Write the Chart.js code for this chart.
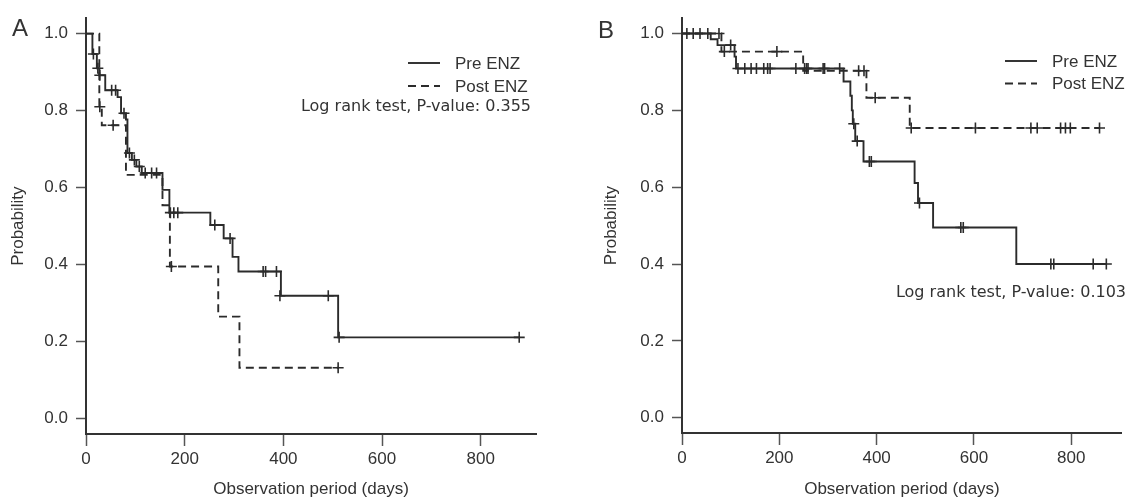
<!DOCTYPE html>
<html>
<head>
<meta charset="utf-8">
<script src="https://cdn.jsdelivr.net/npm/chart.js@4.4.1/dist/chart.umd.min.js"></script>
<style>
  html, body { margin: 0; padding: 0; background: #fff; }
  #wrap { position: relative; width: 1129px; height: 501px; }
  canvas { position: absolute; top: 0; }
  #panelA { left: 0; }
  #panelB { left: 596px; }
</style>
</head>
<body>
<div id="wrap">
  <canvas id="panelA" width="596" height="501"></canvas>
  <canvas id="panelB" width="533" height="501"></canvas>
</div>
<script>
// Panel A - step curves (time in days, survival probability)
const aPreTime = [0, 13, 22, 27, 39, 64, 71, 81, 84, 93, 102, 113, 155, 169, 252, 279, 297, 309, 395, 511, 878];
const aPreSurv = [1.0, 0.947, 0.91, 0.892, 0.853, 0.835, 0.793, 0.777, 0.69, 0.672, 0.655, 0.638, 0.594, 0.535, 0.503, 0.468, 0.42, 0.382, 0.319, 0.211, 0.211];
const aPreCensTime = [15, 24, 28, 52, 60, 77, 88, 98, 108, 120, 133, 143, 171, 178, 186, 261, 292, 359, 364, 386, 393, 491, 513, 878];
const aPreCensSurv = [0.947, 0.91, 0.892, 0.853, 0.853, 0.793, 0.69, 0.672, 0.655, 0.638, 0.638, 0.638, 0.535, 0.535, 0.535, 0.503, 0.468, 0.382, 0.382, 0.382, 0.319, 0.319, 0.211, 0.211];

const aPostTime = [0, 27, 32, 81, 155, 170, 268, 311, 511];
const aPostSurv = [1.0, 0.81, 0.762, 0.633, 0.554, 0.395, 0.265, 0.132, 0.132];
const aPostCensTime = [28, 55, 173, 511];
const aPostCensSurv = [0.81, 0.762, 0.395, 0.132];

// Panel B
const bPreTime = [0, 59, 73, 108, 111, 332, 346, 349, 351, 356, 373, 478, 485, 516, 687, 872];
const bPreSurv = [1.0, 0.985, 0.97, 0.94, 0.909, 0.875, 0.838, 0.80, 0.765, 0.72, 0.667, 0.611, 0.559, 0.495, 0.40, 0.40];
const bPreCensTime = [10, 23, 37, 53, 100, 115, 129, 142, 153, 168, 176, 181, 234, 252, 256, 259, 290, 293, 324, 353, 360, 385, 389, 488, 573, 578, 758, 764, 845, 872];
const bPreCensSurv = [1.0, 1.0, 1.0, 1.0, 0.97, 0.909, 0.909, 0.909, 0.909, 0.909, 0.909, 0.909, 0.909, 0.909, 0.909, 0.909, 0.909, 0.909, 0.909, 0.765, 0.72, 0.667, 0.667, 0.559, 0.495, 0.495, 0.40, 0.40, 0.40, 0.40];

const bPostTime = [0, 81, 249, 379, 468, 858];
const bPostSurv = [1.0, 0.953, 0.903, 0.833, 0.754, 0.754];
const bPostCensTime = [76, 87, 195, 363, 374, 397, 471, 603, 717, 730, 778, 788, 798, 858];
const bPostCensSurv = [1.0, 0.953, 0.953, 0.903, 0.903, 0.833, 0.754, 0.754, 0.754, 0.754, 0.754, 0.754, 0.754, 0.754];

const xTicks = [0, 200, 400, 600, 800];
const yTicks = [0, 0.2, 0.4, 0.6, 0.8, 1.0];
const yTickLabels = ['0.0', '0.2', '0.4', '0.6', '0.8', '1.0'];
const groupLabels = ['Pre ENZ', 'Post ENZ'];

const INK = '#2b2b2b';
const SANS = '"Liberation Sans", Arial, sans-serif';

Chart.defaults.font.family = SANS;
Chart.defaults.font.size = 17;
Chart.defaults.color = '#333';

function toPoints(xs, ys) {
    return xs.map((x, i) => ({ x, y: ys[i] }));
}

function curve(label, xs, ys, dash) {
    return {
        type: 'line',
        label,
        data: toPoints(xs, ys),
        stepped: true,
        borderColor: INK,
        borderWidth: 1.9,
        borderDash: dash,
        pointRadius: 0,
        fill: false,
    };
}

function censors(xs, ys) {
    return {
        type: 'scatter',
        label: 'censored',
        data: toPoints(xs, ys),
        pointStyle: 'cross',
        pointRadius: 5.5,
        borderColor: INK,
        backgroundColor: INK,
        borderWidth: 1.6,
    };
}

// panel letter, legend and log-rank note
const kmNotes = {
    id: 'kmNotes',
    afterDraw(chart, args, opts) {
        const ctx = chart.ctx;
        ctx.save();
        ctx.fillStyle = '#333';
        ctx.strokeStyle = INK;
        ctx.textBaseline = 'middle';
        ctx.textAlign = 'left';

        ctx.font = '24px ' + SANS;
        ctx.fillText(opts.letter, opts.letterX, opts.letterY);

        const lines = chart.data.datasets.filter(d => d.type === 'line');
        lines.forEach((d, i) => {
            const y = opts.legendY + i * opts.legendGap;
            ctx.lineWidth = 1.9;
            ctx.setLineDash(d.borderDash || []);
            ctx.beginPath();
            ctx.moveTo(opts.legendX, y);
            ctx.lineTo(opts.legendX + 32, y);
            ctx.stroke();
            ctx.setLineDash([]);
            ctx.font = '17px ' + SANS;
            ctx.fillText(d.label, opts.legendX + 47, y + 1);
        });

        ctx.font = '16px "DejaVu Sans", sans-serif';
        ctx.textAlign = 'right';
        ctx.fillText(opts.pText, opts.pX, opts.pY);
        ctx.restore();
    }
};

function makeChart(id, sets, xMax, padTop, xHeight, yTitlePad, padRight, notes) {
    return new Chart(document.getElementById(id), {
        type: 'line',
        data: { datasets: sets },
        options: {
            responsive: false,
            animation: false,
            events: [],
            layout: { padding: { top: padTop, right: padRight, bottom: 0, left: 0 } },
            plugins: {
                legend: { display: false },
                tooltip: { enabled: false },
                kmNotes: notes,
            },
            scales: {
                x: {
                    type: 'linear',
                    min: 0,
                    max: xMax,
                    afterBuildTicks: s => { s.ticks = xTicks.map(v => ({ value: v })); },
                    afterFit: s => { s.height = xHeight; },
                    grid: { drawOnChartArea: false, drawTicks: true, tickLength: 12, tickWidth: 1.5, tickColor: '#555' },
                    border: { display: true, color: '#333', width: 2 },
                    ticks: { padding: 3, maxRotation: 0, autoSkip: false },
                    title: { display: true, text: 'Observation period (days)', padding: { top: 0, bottom: 1 } },
                },
                y: {
                    type: 'linear',
                    min: -0.04,
                    max: 1.04,
                    afterBuildTicks: s => { s.ticks = yTicks.map(v => ({ value: v })); },
                    afterFit: s => { s.width = 86; },
                    grid: { drawOnChartArea: false, drawTicks: true, tickLength: 10, tickWidth: 1.5, tickColor: '#555' },
                    border: { display: true, color: '#333', width: 2 },
                    ticks: { padding: 8, callback: (v, i) => yTickLabels[i] },
                    title: { display: true, text: 'Probability', padding: { top: yTitlePad, bottom: 0 } },
                },
            },
        },
        plugins: [kmNotes],
    });
}

makeChart('panelA', [
    curve(groupLabels[0], aPreTime, aPreSurv, []),
    curve(groupLabels[1], aPostTime, aPostSurv, [8, 5]),
    censors(aPreCensTime, aPreCensSurv),
    censors(aPostCensTime, aPostCensSurv),
], 912, 18, 67, 8, 60, {
    letter: 'A', letterX: 12, letterY: 29,
    legendX: 408, legendY: 63, legendGap: 23,
    pText: 'Log rank test, P-value: 0.355', pX: 531, pY: 107,
});

makeChart('panelB', [
    curve(groupLabels[0], bPreTime, bPreSurv, []),
    curve(groupLabels[1], bPostTime, bPostSurv, [8, 5]),
    censors(bPreCensTime, bPreCensSurv),
    censors(bPostCensTime, bPostCensSurv),
], 904, 16, 68, 5.5, 0, {
    letter: 'B', letterX: 2, letterY: 31,
    legendX: 409, legendY: 61, legendGap: 22.5,
    pText: 'Log rank test, P-value: 0.103', pX: 530, pY: 293,
});
</script>
</body>
</html>
